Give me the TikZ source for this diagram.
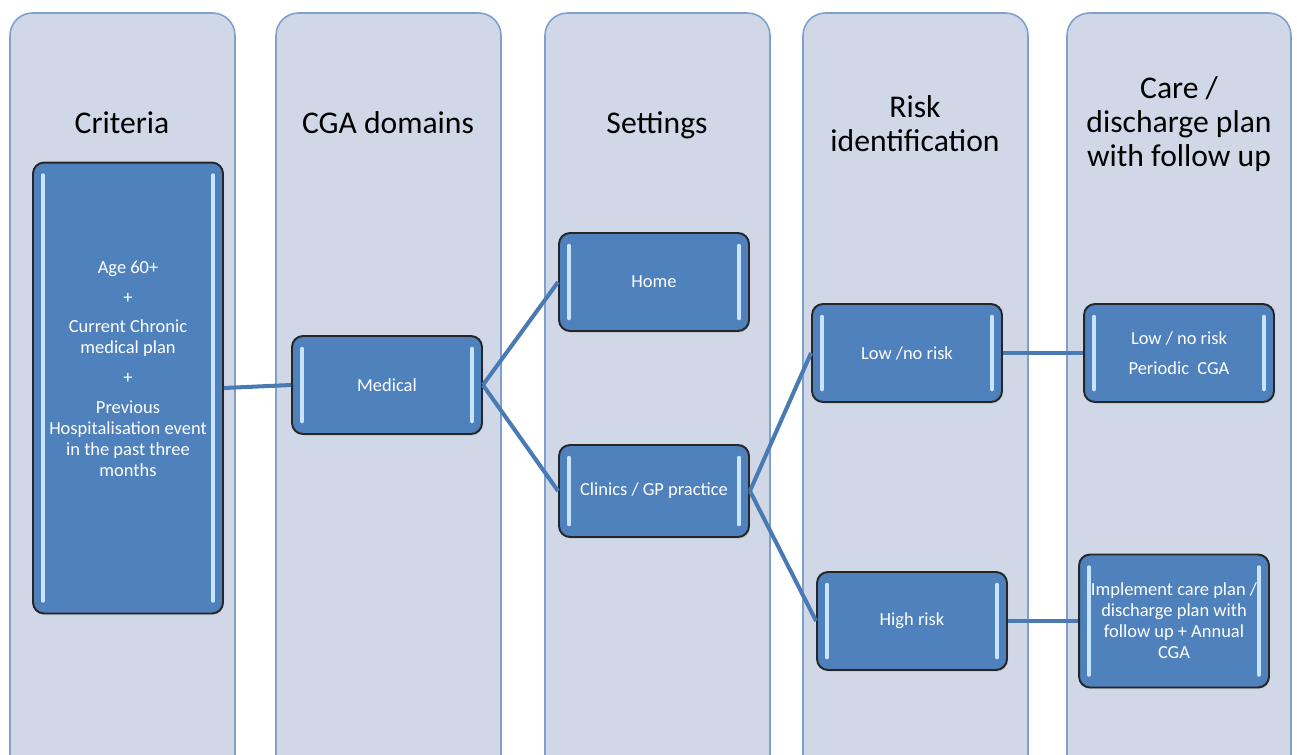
\documentclass[tikz,border=0pt]{standalone}
\usepackage{fontspec}
\setmainfont{Carlito}
\usetikzlibrary{shadows}

\definecolor{lanefill}{RGB}{208,216,232}
\definecolor{laneedge}{RGB}{125,160,206}
\definecolor{boxfill}{RGB}{79,129,189}
\definecolor{boxglow}{RGB}{200,228,252}
\definecolor{linkblue}{RGB}{74,122,180}

\tikzset{
    lane/.style={fill=lanefill, draw=laneedge, line width=0.9pt, rounded corners=0.45cm},
    heading/.style={align=center, font=\fontsize{18}{19.5}\selectfont},
    stepbox/.style={
        draw=black!85, line width=1.1pt, fill=boxfill, rounded corners=0.22cm,
        text=white, align=center, font=\fontsize{10.5}{12}\selectfont,
        minimum width=3.8cm, minimum height=1.96cm, inner sep=2pt,
        drop shadow={opacity=0.25, shadow xshift=0.6pt, shadow yshift=-0.9pt},
        path picture={
            \draw[boxglow, line width=2pt, line cap=round]
                ([shift={(0.2cm,-0.25cm)}]path picture bounding box.north west) --
                ([shift={(0.2cm,0.25cm)}]path picture bounding box.south west);
            \draw[boxglow, line width=2pt, line cap=round]
                ([shift={(-0.2cm,-0.25cm)}]path picture bounding box.north east) --
                ([shift={(-0.2cm,0.25cm)}]path picture bounding box.south east);
        }
    },
    link/.style={draw=linkblue, line width=2.3pt}
}

\begin{document}
\begin{tikzpicture}[x=0.02cm, y=-0.02cm]
            \useasboundingbox (0,0) rectangle (1297,754);
            \begin{scope}
                \clip (0,0) rectangle (1297,754);
                \draw[lane] (10,13) rectangle (235,800);
                \draw[lane] (276,13) rectangle (501,800);
                \draw[lane] (545,13) rectangle (770,800);
                \draw[lane] (803,13) rectangle (1028,800);
                \draw[lane] (1067,13) rectangle (1291,800);
            \end{scope}

            \node[heading] (hcrit) at (122,123) {Criteria};
            \node[heading] (hdom) at (388,123) {CGA domains};
            \node[heading] (hset) at (657,125) {Settings};
            \node[heading] (hrisk) at (915,124) {Risk\\identification};
            \node[heading] (hcare) at (1179,124) {Care /\\discharge plan\\with follow up};

            \node[stepbox, minimum height=9.02cm] (crit) at (128,388)
                {Age 60+\\[0.17cm] +\\[0.17cm] Current Chronic\\medical plan\\[0.17cm] +\\[0.17cm]
                 Previous\\Hospitalisation event\\in the past three\\months\\[0.22cm]\strut};
            \node[stepbox] (med) at (387,385) {Medical};
            \node[stepbox] (home) at (654,282) {Home};
            \node[stepbox, minimum height=1.84cm] (clin) at (654,491) {Clinics / GP practice};
            \node[stepbox] (low) at (907,353) {Low /no risk};
            \node[stepbox] (high) at (912,621) {High risk};
            \node[stepbox] (per) at (1179,353) {Low / no risk\\[0.17cm] Periodic\ \ CGA};
            \node[stepbox, minimum height=2.66cm, inner sep=0pt] (impl) at (1174,621)
                {Implement care plan /\\discharge plan with\\follow up + Annual\\CGA};

            \draw[link] (crit.east) -- (med.west);
            \draw[link] (med.east) -- (home.west);
            \draw[link] (med.east) -- (clin.west);
            \draw[link] (clin.east) -- (low.west);
            \draw[link] (clin.east) -- (high.west);
            \draw[link] (low.east) -- (per.west);
            \draw[link] (high.east) -- (impl.west);
        \end{tikzpicture}
\end{document}
